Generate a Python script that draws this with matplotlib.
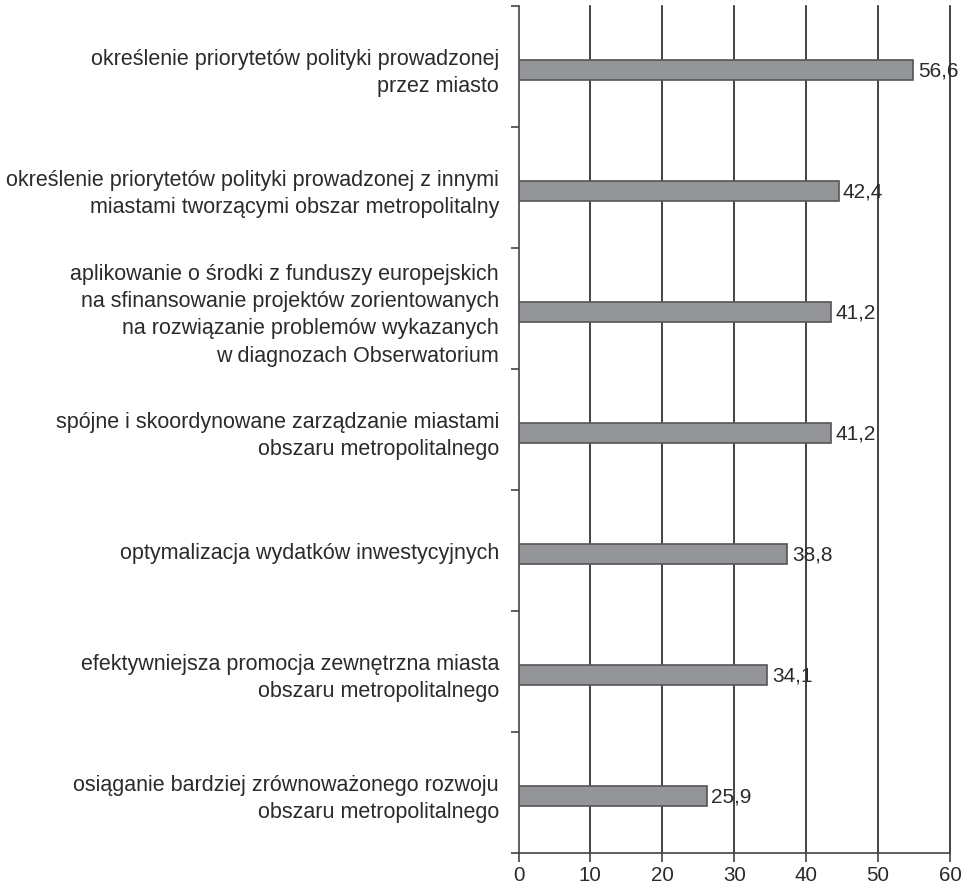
import matplotlib
matplotlib.use("Agg")
import matplotlib.pyplot as plt
import numpy as np

categories = [
    "określenie priorytetów polityki prowadzonej\nprzez miasto",
    "określenie priorytetów polityki prowadzonej z innymi\nmiastami tworzącymi obszar metropolitalny",
    "aplikowanie o środki z funduszy europejskich\nna sfinansowanie projektów zorientowanych\nna rozwiązanie problemów wykazanych\nw diagnozach Obserwatorium",
    "spójne i skoordynowane zarządzanie miastami\nobszaru metropolitalnego",
    "optymalizacja wydatków inwestycyjnych",
    "efektywniejsza promocja zewnętrzna miasta\nobszaru metropolitalnego",
    "osiąganie bardziej zrównoważonego rozwoju\nobszaru metropolitalnego",
]
# bar lengths as drawn in the picture
bar_lengths = [54.9, 44.5, 43.5, 43.4, 37.4, 34.6, 26.2]
# value labels printed next to the bars
value_labels = ["56,6", "42,4", "41,2", "41,2", "38,8", "34,1", "25,9"]
x_ticks = [0, 10, 20, 30, 40, 50, 60]

plt.rcParams['font.family'] = ['Liberation Sans', 'DejaVu Sans']

fig = plt.figure(figsize=(9.63, 8.87), dpi=100)
ax = fig.add_axes([518.5/963, 1-854/887, (950-518.5)/963, (854-7)/887])

n = len(categories)
y = np.arange(n)
ax.barh(y + 0.03, bar_lengths, height=0.165, color='#949599', edgecolor='#555555', linewidth=1.2, zorder=3)

for yi, v, lab in zip(y, bar_lengths, value_labels):
    ax.annotate(lab, (v, yi + 0.03), xytext=(3.2, 0), textcoords='offset points',
                va='center', ha='left', fontsize=15, color='#2b2b2b', zorder=4,
                annotation_clip=False)

ax.set_xlim(0, 60)
ax.set_ylim(n - 0.5, -0.5)
ax.set_xticks(x_ticks)
ax.set_xticklabels([str(t) for t in x_ticks], fontsize=14.8, color='#2b2b2b')
ax.set_yticks(y)
ax.set_yticklabels(categories, fontsize=15.5, color='#2b2b2b', ha='right', linespacing=1.4)
ax.tick_params(axis='y', which='major', length=0, pad=14)
ax.set_yticks(np.arange(-0.5, n + 0.5, 1), minor=True)
ax.tick_params(axis='y', which='minor', length=5.5, width=1.2, color='#444444', direction='out')
ax.tick_params(axis='x', which='major', length=6.5, width=1.2, color='#444444', direction='out', pad=2)

for t in x_ticks[1:]:
    ax.axvline(t, color='#222222', linewidth=1.2, zorder=1, clip_on=False)

for s in ['top', 'right']:
    ax.spines[s].set_visible(False)
for s in ['left', 'bottom']:
    ax.spines[s].set_color('#444444')
    ax.spines[s].set_linewidth(1.2)

fig.savefig("out.png", dpi=100)
